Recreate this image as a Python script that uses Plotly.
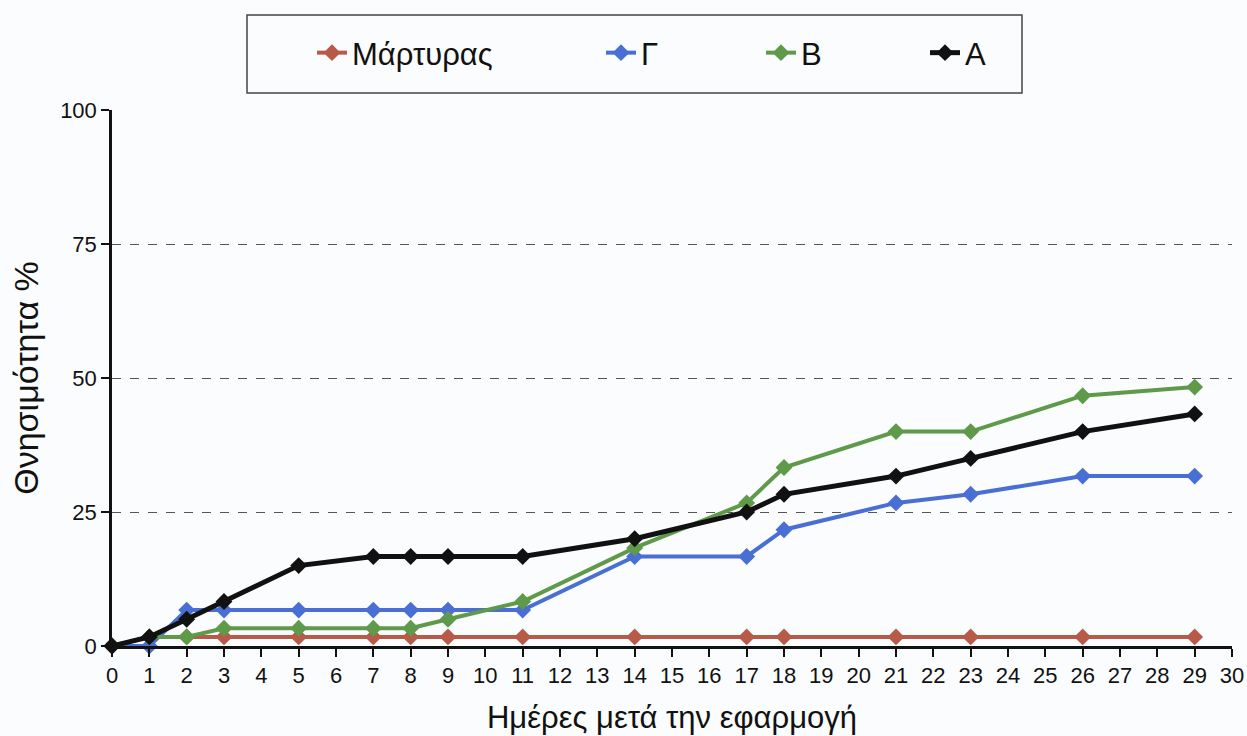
import plotly.graph_objects as go

days_ctrl = [0, 1, 2, 3, 5, 7, 8, 9, 11, 14, 17, 18, 21, 23, 26, 29]
ctrl = [0, 1.7, 1.7, 1.7, 1.7, 1.7, 1.7, 1.7, 1.7, 1.7, 1.7, 1.7, 1.7, 1.7, 1.7, 1.7]

days = [0, 1, 2, 3, 5, 7, 8, 9, 11, 14, 17, 18, 21, 23, 26, 29]
g_vals = [0, 0, 6.7, 6.7, 6.7, 6.7, 6.7, 6.7, 6.7, 16.7, 16.7, 21.7, 26.7, 28.3, 31.7, 31.7]
b_vals = [0, 1.7, 1.7, 3.3, 3.3, 3.3, 3.3, 5.0, 8.3, 18.3, 26.7, 33.3, 40.0, 40.0, 46.7, 48.3]
a_vals = [0, 1.7, 5.0, 8.3, 15.0, 16.7, 16.7, 16.7, 16.7, 20.0, 25.0, 28.3, 31.7, 35.0, 40.0, 43.3]

names = ["Μάρτυρας", "Γ", "B", "A"]
colors = ["#b85a48", "#4a6fd4", "#5f9a4a", "#111111"]
widths = [4, 4, 4, 5]
xs = [days_ctrl, days, days, days]
ys = [ctrl, g_vals, b_vals, a_vals]

x_ticks = list(range(0, 31))
y_ticks = [0, 25, 50, 75, 100]

FONT = "Liberation Sans, Arial, sans-serif"

# plot area in pixels
L, R, T, B = 112, 15, 110, 90
W, H = 1247, 736
pw = W - L - R
ph = H - T - B

def px_x(p):
    return (p - L) / pw

def px_y(p):
    return (H - B - p) / ph

fig = go.Figure()
legend_ids = ["legend", "legend2", "legend3", "legend4"]
for i in range(4):
    fig.add_trace(go.Scatter(
        x=xs[i], y=ys[i], name=names[i], mode="lines+markers",
        line=dict(color=colors[i], width=widths[i]),
        marker=dict(symbol="diamond", size=13, color=colors[i]),
        cliponaxis=False, legend=legend_ids[i],
    ))

# text start positions (px) of each legend entry
text_starts = [351, 640, 800, 964]
layout_legends = {}
for i, lid in enumerate(legend_ids):
    layout_legends[lid] = dict(
        x=px_x(text_starts[i] - 39), y=px_y(53), xanchor="left", yanchor="middle",
        orientation="h", bgcolor="rgba(0,0,0,0)", borderwidth=0,
        font=dict(family=FONT, size=31, color="#111111"),
    )

fig.update_layout(
    width=W, height=H,
    margin=dict(l=L, r=R, t=T, b=B, autoexpand=False),
    paper_bgcolor="#fbfcfd", plot_bgcolor="#fbfcfd",
    showlegend=True,
    font=dict(family=FONT, color="#111111"),
    **layout_legends,
    shapes=[dict(type="rect", xref="paper", yref="paper",
                 x0=px_x(247), x1=px_x(1022), y0=px_y(93), y1=px_y(15),
                 line=dict(color="#444444", width=1.5), fillcolor="rgba(0,0,0,0)", layer="below")],
)

fig.update_xaxes(
    range=[0, 30], tickmode="array", tickvals=x_ticks, ticktext=[str(v) for v in x_ticks],
    showgrid=False, zeroline=False, showline=True, linecolor="#111111", linewidth=2.5,
    ticks="outside", ticklen=8, tickwidth=2, tickcolor="#111111",
    ticklabeloverflow="allow", automargin=False,
    tickfont=dict(family=FONT, size=22, color="#111111"),
    title=dict(text="Ημέρες μετά την εφαρμογή", font=dict(family=FONT, size=31, color="#111111"), standoff=20),
)
fig.update_yaxes(
    range=[0, 100], tickmode="array", tickvals=y_ticks, ticktext=[str(v) for v in y_ticks],
    showgrid=True, gridcolor="#555555", griddash="dash", gridwidth=1,
    zeroline=False, showline=True, linecolor="#111111", linewidth=2.5,
    ticks="outside", ticklen=8, tickwidth=2, tickcolor="#111111",
    automargin=False,
    tickfont=dict(family=FONT, size=22, color="#111111"),
    title=dict(text="Θνησιμότητα %", font=dict(family=FONT, size=34, color="#111111"), standoff=12),
)

fig.write_html("out.html")
